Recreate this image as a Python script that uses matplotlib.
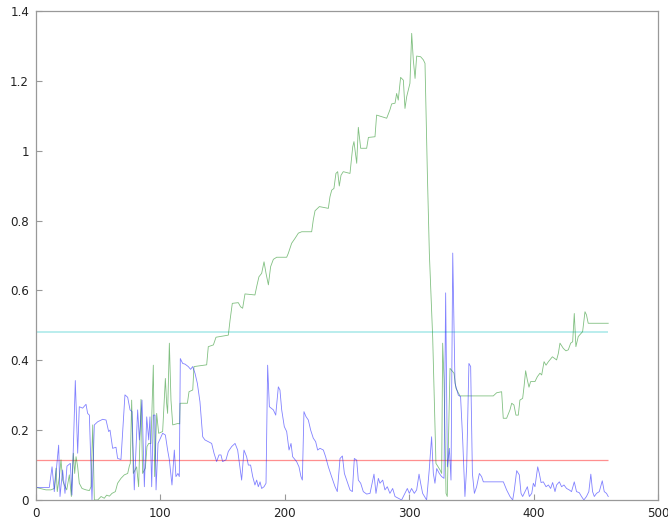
import matplotlib
matplotlib.use("Agg")
import matplotlib.pyplot as plt

# Green series (vertex positions and values)
green_x = [0, 8, 12, 14.7, 16.1, 17.1, 18.8, 20.1, 21.4, 22.8, 24.7, 26.8, 28.4, 30, 31.1,
           32.2, 33.5, 34.8, 37, 40.2, 42.9, 44.2, 45.6, 46.9, 49.6, 52.3, 54.9, 56.8, 59,
           61.1, 63.8, 65.6, 68.3, 71, 73.7, 75, 75.8, 76.9, 78.2, 80.9, 82.5, 84.4, 85.7,
           87.9, 89.2, 90.6, 92.4, 94.3, 95.4, 97, 98.6, 101.8, 104, 105, 105.8, 107.2,
           108.5, 109.9, 113.9, 115.5, 115.8, 121.7, 123, 126, 127, 137.2, 138.5, 142.6,
           144.7, 154.6, 156, 157.8, 162.6, 164.5, 166.1, 168, 176, 177.4, 179.2, 181.4,
           183.3, 184.9, 186.8, 188.6, 190.8, 193.5, 201.5, 202.8, 205.5, 208.2, 210.9,
           213.6, 221.6, 222.9, 224.3, 227.8, 235, 236.3, 237.7, 239.5, 241.1, 242.5, 243.8,
           245.2, 247, 252.4, 254.6, 255.6, 257.8, 259.1, 261, 265.8, 267.2, 272.5, 273.8,
           281.9, 284.5, 285.9, 288.6, 289.9, 291.2, 293.1, 295.3, 296.6, 298, 300.6, 302,
           303.3, 304.7, 306, 309.2, 311.4, 312.7, 314.6, 316.2, 318.9, 320, 321.5, 324.8,
           326.1, 326.9, 328, 329.6, 330.6, 332.8, 336, 337.6, 340.8, 367.6, 370.3, 374.3,
           375.6, 378.3, 381, 382.4, 384.2, 385.8, 387.7, 389, 391.2, 392.3, 393.6, 395,
           396.3, 397.6, 401.1, 403, 405.1, 406.5, 408.4, 410, 411.9, 415.1, 418.5, 419.9,
           421.2, 423.9, 426, 427.9, 429.8, 431.4, 432.7, 434, 435.9, 439.4, 441.3, 442.5,
           443.9, 460]
green_y = [0.036, 0.029, 0.029, 0.033, 0.091, 0.024, 0.067, 0.115, 0.057, 0.043, 0.029, 0.072,
           0.010, 0.134, 0.076, 0.124, 0.095, 0.048, 0.033, 0.029, 0.027, 0.038, 0.215, 0.0,
           0.0, 0.010, 0.005, 0.014, 0.011, 0.019, 0.024, 0.048, 0.062, 0.072, 0.076, 0.097,
           0.105, 0.286, 0.076, 0.095, 0.038, 0.288, 0.076, 0.091, 0.153, 0.162, 0.162, 0.386,
           0.067, 0.248, 0.191, 0.196, 0.348, 0.277, 0.248, 0.449, 0.286, 0.215, 0.219, 0.218,
           0.277, 0.277, 0.31, 0.315, 0.382, 0.387, 0.439, 0.444, 0.466, 0.472, 0.515, 0.563,
           0.565, 0.553, 0.549, 0.59, 0.587, 0.611, 0.639, 0.649, 0.682, 0.649, 0.616, 0.668,
           0.689, 0.695, 0.695, 0.706, 0.735, 0.749, 0.764, 0.768, 0.768, 0.802, 0.828, 0.84,
           0.835, 0.868, 0.887, 0.892, 0.935, 0.94, 0.899, 0.93, 0.94, 0.935, 1.011, 1.026,
           0.964, 1.067, 1.007, 1.007, 1.038, 1.04, 1.102, 1.093, 1.117, 1.134, 1.136, 1.164,
           1.145, 1.21, 1.202, 1.121, 1.155, 1.193, 1.336, 1.26, 1.207, 1.271, 1.269, 1.26,
           1.25, 0.935, 0.706, 0.463, 0.315, 0.105, 0.086, 0.076, 0.449, 0.344, 0.019, 0.010,
           0.377, 0.363, 0.32, 0.298, 0.298, 0.307, 0.31, 0.234, 0.234, 0.258, 0.277, 0.272,
           0.243, 0.243, 0.286, 0.291, 0.324, 0.37, 0.343, 0.323, 0.339, 0.339, 0.353, 0.363,
           0.358, 0.396, 0.386, 0.396, 0.41, 0.401, 0.42, 0.449, 0.434, 0.427, 0.43, 0.449,
           0.453, 0.534, 0.439, 0.468, 0.482, 0.539, 0.53, 0.506, 0.506]

# Blue series (vertex positions and values)
blue_x = [0, 10.7, 12.9, 14.7, 18.2, 19.3, 21.4, 23.3, 24.9, 27.6, 28.9, 31.6, 33.5, 34.8,
          37.5, 40.2, 41.5, 42.9, 45, 46.9, 49.6, 53.6, 56.3, 58.4, 59.5, 61.6, 64.3, 65.6,
          68.3, 71.5, 73.7, 75.6, 77.2, 79, 81.7, 83.1, 85.2, 87.1, 89, 90.6, 91.6, 93, 94.3,
          95.7, 96.5, 98.1, 101.8, 104, 105.8, 107.2, 109.3, 111.2, 112.5, 114.1, 115.2, 116,
          117.9, 119.8, 122.4, 124.3, 125.9, 127.8, 129.7, 131.8, 134, 135.8, 138.5, 141.2,
          143.1, 145.2, 147.1, 148.7, 150, 152.7, 154.6, 157.3, 160, 162.1, 164, 165.3, 167.2,
          169.3, 170.7, 172.5, 174.2, 176, 177.4, 178.7, 180.1, 181.4, 183.3, 184.9, 186.2,
          187.6, 190.8, 192.7, 194.8, 196.1, 197.5, 199.6, 201.5, 203.4, 205, 206.3, 209.5,
          211.4, 213, 214.1, 215.4, 217, 218.9, 220.8, 222.9, 224.8, 226.4, 228.3, 231, 232.8,
          235, 237.6, 240.4, 242.2, 244.4, 246.3, 247.9, 249.7, 252.4, 254.3, 255.9, 257.8,
          259.1, 261, 263.1, 265.8, 268.5, 271.7, 273.3, 275.2, 276.5, 278.7, 280.5, 282.4,
          284.5, 286.7, 288.6, 291.2, 293.9, 296.6, 298.5, 300.1, 301.9, 304.1, 306, 307.9,
          309.2, 310.8, 314, 316.1, 318, 319.4, 320.7, 322.1, 324.2, 326.1, 328, 329.3, 330.7,
          332.3, 333.6, 335, 336.8, 339.5, 341.3, 343, 344.8, 346.2, 348, 349.4, 350.8, 352.4,
          354.2, 356.4, 358.2, 359.6, 375.7, 378.3, 381, 383.2, 384.5, 386.4, 388.5, 389.9,
          391.2, 393.1, 395, 396.6, 398.5, 399.8, 401.1, 403.3, 404.6, 406, 407.8, 410, 411.9,
          413.7, 415.3, 417.2, 418.5, 420.7, 422.5, 424.4, 426.5, 428.6, 430.5, 432.7, 434.5,
          436.7, 438.5, 440.4, 442.5, 444.4, 446, 447.4, 448.8, 450.6, 452.8, 455.2, 456.8,
          458.6, 460]
blue_y = [0.036, 0.036, 0.095, 0.024, 0.157, 0.010, 0.086, 0.019, 0.097, 0.105, 0.014, 0.342,
          0.134, 0.267, 0.263, 0.274, 0.248, 0.243, 0.0, 0.215, 0.224, 0.231, 0.229, 0.196,
          0.200, 0.148, 0.151, 0.119, 0.116, 0.301, 0.294, 0.258, 0.253, 0.029, 0.258, 0.172,
          0.286, 0.038, 0.238, 0.172, 0.238, 0.038, 0.243, 0.243, 0.029, 0.162, 0.191, 0.186,
          0.143, 0.115, 0.043, 0.143, 0.067, 0.076, 0.067, 0.405, 0.391, 0.389, 0.382, 0.374,
          0.382, 0.363, 0.334, 0.281, 0.181, 0.172, 0.167, 0.162, 0.134, 0.110, 0.129, 0.129,
          0.110, 0.115, 0.139, 0.153, 0.162, 0.143, 0.091, 0.057, 0.143, 0.124, 0.1, 0.1,
          0.067, 0.043, 0.057, 0.038, 0.052, 0.033, 0.038, 0.048, 0.386, 0.267, 0.258, 0.243,
          0.324, 0.315, 0.258, 0.21, 0.196, 0.143, 0.162, 0.124, 0.11, 0.095, 0.067, 0.057,
          0.253, 0.239, 0.229, 0.2, 0.177, 0.167, 0.143, 0.148, 0.143, 0.124, 0.095, 0.067,
          0.038, 0.024, 0.119, 0.126, 0.076, 0.057, 0.029, 0.024, 0.119, 0.114, 0.057, 0.048,
          0.024, 0.017, 0.019, 0.074, 0.019, 0.062, 0.048, 0.057, 0.029, 0.038, 0.019, 0.033,
          0.01, 0.005, 0.0, 0.019, 0.033, 0.019, 0.033, 0.019, 0.029, 0.074, 0.048, 0.019, 0.0,
          0.086, 0.181, 0.076, 0.048, 0.09, 0.076, 0.067, 0.062, 0.593, 0.095, 0.148, 0.057,
          0.707, 0.334, 0.30, 0.296, 0.172, 0.01, 0.095, 0.391, 0.382, 0.076, 0.019, 0.038,
          0.076, 0.067, 0.052, 0.052, 0.029, 0.01, 0.0, 0.029, 0.084, 0.072, 0.019, 0.01,
          0.024, 0.038, 0.01, 0.019, 0.048, 0.038, 0.095, 0.076, 0.05, 0.052, 0.038, 0.043,
          0.033, 0.05, 0.024, 0.043, 0.052, 0.038, 0.043, 0.033, 0.029, 0.024, 0.052, 0.024,
          0.021, 0.01, 0.0, 0.01, 0.024, 0.074, 0.024, 0.01, 0.019, 0.024, 0.055, 0.024,
          0.019, 0.01]

# Reference levels
span_x = [0, 460]
cyan_level = 0.481
red_level = 0.1145

x_ticks = [0, 100, 200, 300, 400, 500]
x_tick_labels = ["0", "100", "200", "300", "400", "500"]
y_ticks = [0, 0.2, 0.4, 0.6, 0.8, 1.0, 1.2, 1.4]
y_tick_labels = ["0", "0.2", "0.4", "0.6", "0.8", "1", "1.2", "1.4"]

fig = plt.figure(figsize=(6.68, 5.23), dpi=100)
ax = fig.add_axes([36 / 668, 23 / 523, 622 / 668, 489 / 523])

ax.plot(span_x, [cyan_level, cyan_level], color="#aeeaea", lw=1.2, solid_capstyle="butt")
ax.plot(span_x, [red_level, red_level], color="#ff8f8f", lw=0.9, solid_capstyle="butt")
ax.plot(green_x, green_y, color="#1a8c1a", lw=0.6, alpha=0.55)
ax.plot(blue_x, blue_y, color="#1a1aff", lw=0.6, alpha=0.55)

ax.set_xlim(0, 500)
ax.set_ylim(0, 1.4)
ax.set_xticks(x_ticks)
ax.set_xticklabels(x_tick_labels)
ax.set_yticks(y_ticks)
ax.set_yticklabels(y_tick_labels)

for sp in ax.spines.values():
    sp.set_color("#999999")
    sp.set_linewidth(0.9)
ax.tick_params(direction="in", length=4, width=0.8, color="#999999",
               labelsize=8.6, labelcolor="#222222", pad=5,
               top=False, right=False)

fig.savefig("out.png", dpi=100)
